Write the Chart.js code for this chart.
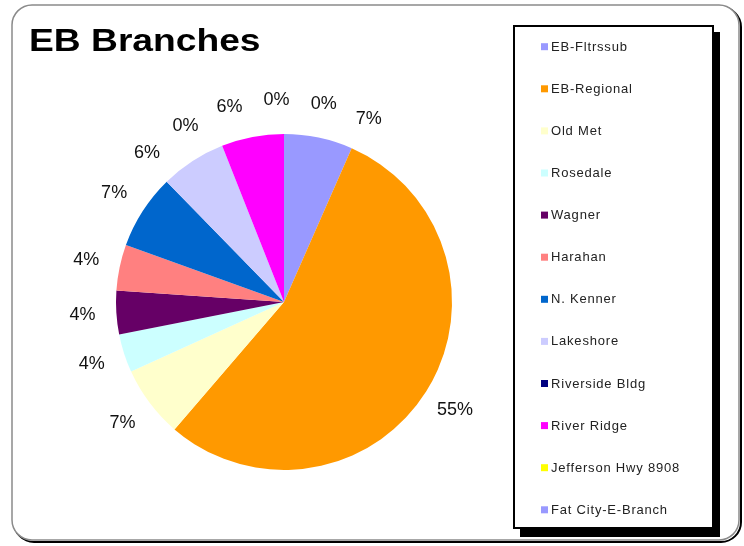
<!DOCTYPE html>
<html lang="en">
<head>
    <meta charset="UTF-8">
    <title>EB Branches</title>
    <script src="https://cdn.jsdelivr.net/npm/chart.js"></script>
    <style>
        html, body { margin: 0; padding: 0; background: #fff; }
        #wrap { width: 744px; height: 546px; position: relative; }
    </style>
</head>
<body>
    <div id="wrap"><canvas id="pie"></canvas></div>
    <script>
        // data (share of total, in %)
        const branches = ['EB-Fltrssub', 'EB-Regional', 'Old Met', 'Rosedale', 'Wagner', 'Harahan',
                          'N. Kenner', 'Lakeshore', 'Riverside Bldg', 'River Ridge', 'Jefferson Hwy 8908', 'Fat City-E-Branch'];
        const shares = [6.6, 54.7, 6.9, 3.7, 4.2, 4.4, 7.2, 6.3, 0, 6.0, 0, 0];
        const colors = ['#9999FF', '#FF9900', '#FFFFCC', '#CCFFFF', '#660066', '#FF8080',
                        '#0066CC', '#CCCCFF', '#000080', '#FF00FF', '#FFFF00', '#9999FF'];
        const chartTitle = 'EB Branches';

        function roundRect(ctx, x, y, w, h, r) {
            ctx.beginPath();
            ctx.moveTo(x + r, y);
            ctx.arcTo(x + w, y, x + w, y + h, r);
            ctx.arcTo(x + w, y + h, x, y + h, r);
            ctx.arcTo(x, y + h, x, y, r);
            ctx.arcTo(x, y, x + w, y, r);
            ctx.closePath();
        }

        // outer frame, drawn under everything
        const framePlugin = {
            id: 'frame',
            beforeDraw(chart) {
                const ctx = chart.ctx;
                ctx.save();
                ctx.lineWidth = 2;
                ctx.strokeStyle = '#000';
                roundRect(ctx, 14, 7, 727, 535, 20);
                ctx.stroke();
                roundRect(ctx, 12, 5, 727, 535, 20);
                ctx.fillStyle = '#fff';
                ctx.fill();
                ctx.lineWidth = 1.5;
                ctx.strokeStyle = '#8a8a8a';
                ctx.stroke();
                ctx.restore();
            }
        };

        // percent labels outside the slices, nudged apart when they crowd
        const labelPlugin = {
            id: 'pctLabels',
            afterDatasetsDraw(chart) {
                const ctx = chart.ctx;
                const arcs = chart.getDatasetMeta(0).data;
                const vals = chart.data.datasets[0].data;
                const total = vals.reduce((a, b) => a + b, 0);
                const n = arcs.length;
                const order = [];
                for (let i = 1; i < n; i++) order.push(i);
                order.push(0);
                const ang = [];
                let prev = -Infinity;
                order.forEach(i => {
                    const a = arcs[i];
                    let deg = ((a.startAngle + a.endAngle) / 2) * 180 / Math.PI + 90;
                    while (deg < prev) deg += 360;
                    ang.push(deg);
                    prev = deg;
                });
                const minSep = 13.5;
                for (let it = 0; it < 300; it++) {
                    for (let k = 0; k < ang.length - 1; k++) {
                        const gap = ang[k + 1] - ang[k];
                        if (gap < minSep) {
                            const s = (minSep - gap) / 2;
                            ang[k] -= s;
                            ang[k + 1] += s;
                        }
                    }
                }
                ctx.save();
                ctx.font = '18px "Liberation Sans", Arial, sans-serif';
                ctx.fillStyle = '#111';
                ctx.textAlign = 'center';
                ctx.textBaseline = 'middle';
                order.forEach((i, k) => {
                    const a = arcs[i];
                    const rad = (ang[k] - 90) * Math.PI / 180;
                    const r = a.outerRadius + 34;
                    const pct = Math.round(vals[i] / total * 100) + '%';
                    ctx.fillText(pct, a.x + Math.cos(rad) * r, a.y + Math.sin(rad) * r);
                });
                ctx.restore();
            },
            afterDraw(chart) {
                const ctx = chart.ctx;
                ctx.save();
                // title, a bit stretched like the original
                ctx.save();
                ctx.translate(29, 51);
                ctx.scale(1.2, 1);
                ctx.font = 'bold 31px "Liberation Sans", Arial, sans-serif';
                ctx.fillStyle = '#000';
                ctx.textBaseline = 'alphabetic';
                ctx.fillText(chartTitle, 0, 0);
                ctx.restore();
                // legend box with shadow
                ctx.fillStyle = '#000';
                ctx.fillRect(520, 32, 200, 505);
                ctx.fillStyle = '#fff';
                ctx.fillRect(514, 26, 199, 502);
                ctx.lineWidth = 2;
                ctx.strokeStyle = '#000';
                ctx.strokeRect(514, 26, 199, 502);
                ctx.font = '13px "Liberation Sans", Arial, sans-serif';
                ctx.letterSpacing = '0.8px';
                ctx.textBaseline = 'middle';
                const labels = chart.data.labels;
                const cols = chart.data.datasets[0].backgroundColor;
                labels.forEach((lab, i) => {
                    const y = 46.7 + i * 42.1;
                    ctx.fillStyle = cols[i];
                    ctx.fillRect(541, y - 3.5, 7, 7);
                    ctx.fillStyle = '#222';
                    ctx.fillText(lab, 551, y + 0.5);
                });
                ctx.restore();
            }
        };

        new Chart(document.getElementById('pie'), {
            type: 'pie',
            data: {
                labels: branches,
                datasets: [{
                    data: shares,
                    backgroundColor: colors,
                    borderWidth: 0
                }]
            },
            options: {
                responsive: true,
                maintainAspectRatio: false,
                animation: false,
                layout: { padding: { left: 116, top: 134, right: 292, bottom: 76 } },
                plugins: {
                    legend: { display: false },
                    tooltip: { enabled: false },
                    title: { display: false }
                }
            },
            plugins: [framePlugin, labelPlugin]
        });
    </script>
</body>
</html>
